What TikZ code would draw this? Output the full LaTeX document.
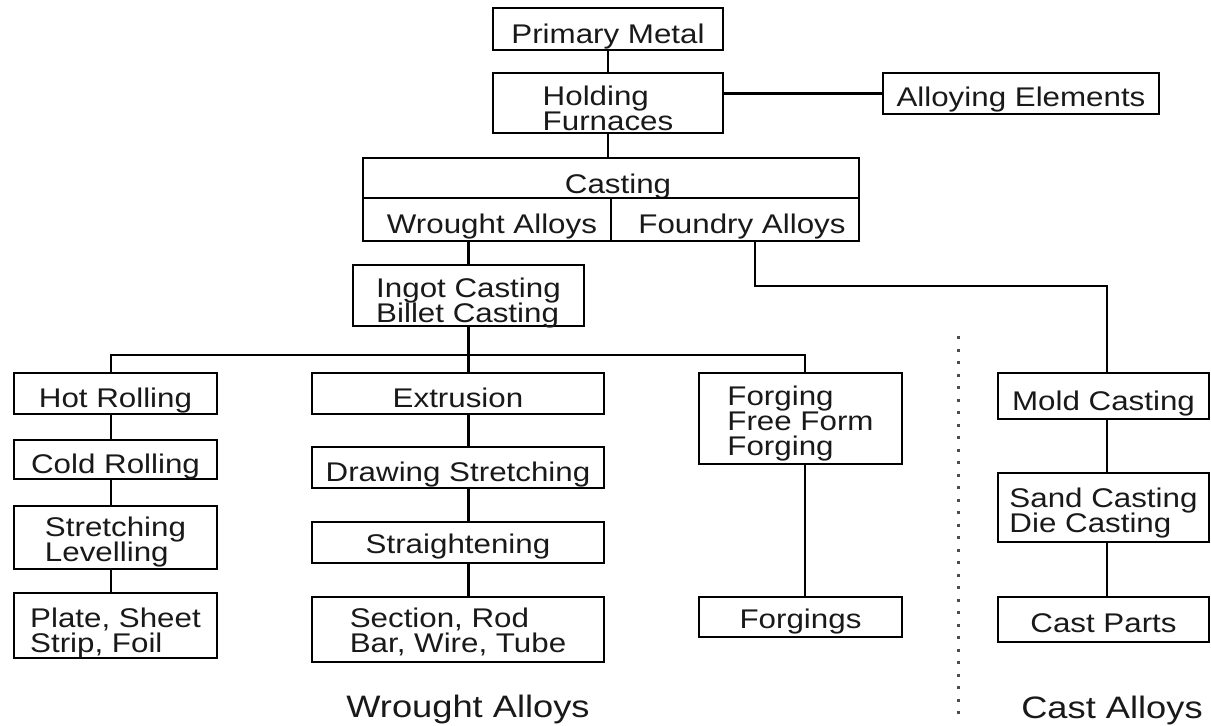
\documentclass[tikz,border=0pt]{standalone}
\usepackage{fontspec}
\newfontfamily\boxfnt{Liberation Sans}[FakeStretch=1.16]
\newfontfamily\lblfnt{Liberation Sans}[FakeStretch=1.17]
\newcommand\bt[2]{\raisebox{-#1pt}[0pt][0pt]{\vtop{\baselineskip=25pt\lineskiplimit=-100pt\lineskip=0pt\halign{##\hfil\cr#2\crcr}}}}
\begin{document}
\begin{tikzpicture}[x=1pt,y=-1pt,
  box/.style={draw=black, line width=2.4pt, inner sep=0pt, font=\boxfnt\fontsize{27}{25}\selectfont, text=black!90},
  conn/.style={line width=2.4pt},
  grouplabel/.style={inner sep=0pt, anchor=base, font=\lblfnt\fontsize{31}{31}\selectfont, text=black!90},
  dots/.style={line width=3pt, dash pattern=on 3pt off 9.5pt, black!70}
]
\useasboundingbox (0,0) rectangle (1211,726);
% top
\node[box, minimum width=230pt, minimum height=42pt] (pm) at (608,29) {\bt{14}{Primary Metal}};
\node[box, minimum width=230pt, minimum height=60pt] (hf) at (608,103) {\bt{2}{Holding\cr Furnaces}};
\node[box, minimum width=276pt, minimum height=41pt] (ae) at (1021,93.5) {\bt{12.5}{Alloying Elements}};
\node[box, minimum width=496pt, minimum height=40pt] (cast) at (611,178) {\hspace*{14pt}\bt{15}{Casting}};
\node[box, minimum width=248pt, minimum height=43pt] (wr) at (487,219.5) {\hspace*{10pt}\bt{13.5}{Wrought Alloys}};
\node[box, minimum width=248pt, minimum height=43pt] (fd) at (735,219.5) {\hspace*{14pt}\bt{13.5}{Foundry Alloys}};
\node[box, minimum width=231pt, minimum height=61pt] (ingot) at (468.5,295.5) {\bt{1.5}{Ingot Casting\cr Billet Casting}};
% left column
\node[box, minimum width=203pt, minimum height=41pt] (hot) at (115.5,393.5) {\bt{13.5}{Hot Rolling}};
\node[box, minimum width=203pt, minimum height=39pt] (cold) at (115.5,459.5) {\bt{13.5}{Cold Rolling}};
\node[box, minimum width=203pt, minimum height=63pt] (str) at (115.5,537.5) {\bt{-1.5}{Stretching\cr Levelling}};
\node[box, minimum width=203pt, minimum height=65pt] (plate) at (115.5,625.5) {\bt{1.5}{Plate, Sheet\cr Strip, Foil}};
% middle column
\node[box, minimum width=292pt, minimum height=41pt] (ext) at (458,393.5) {\bt{13.5}{Extrusion}};
\node[box, minimum width=292pt, minimum height=41pt] (drw) at (458,467.5) {\bt{13.5}{Drawing Stretching}};
\node[box, minimum width=292pt, minimum height=41pt] (strt) at (458,542.5) {\bt{10.5}{Straightening}};
\node[box, minimum width=292pt, minimum height=65pt] (sec) at (458,629.5) {\bt{-2.5}{Section, Rod\cr Bar, Wire, Tube}};
% forging column
\node[box, minimum width=203pt, minimum height=91pt] (forg) at (800.5,418.5) {\bt{-13.5}{Forging\cr Free Form\cr Forging}};
\node[box, minimum width=203pt, minimum height=40pt] (forgs) at (800.5,617) {\bt{11}{Forgings}};
% cast column
\node[box, minimum width=211pt, minimum height=46pt] (mold) at (1103.5,396) {\bt{14}{Mold Casting}};
\node[box, minimum width=211pt, minimum height=69pt] (sand) at (1103.5,507.5) {\bt{-0.5}{Sand Casting\cr Die Casting}};
\node[box, minimum width=211pt, minimum height=45pt] (parts) at (1103.5,619.5) {\bt{12.5}{Cast Parts}};
% group labels
\node[grouplabel] (lw) at (468,717) {Wrought Alloys};
\node[grouplabel] (lc) at (1112,718) {Cast Alloys};
% coordinates
\coordinate (busL) at (111,355);
\coordinate (busR) at (805,355);
\coordinate (f1) at (755,286);
\coordinate (f2) at (1107,286);
\coordinate (d1) at (958,336);
\coordinate (d2) at (958,714);
% connectors
\draw[conn] (pm.south) -- (hf.north);
\draw[conn] (ae.west) -- (ae.west -| hf.east);
\draw[conn] (hf.south) -- (hf.south |- cast.north);
\draw[conn] (ingot.north) -- (ingot.north |- wr.south);
\draw[conn] (ingot.south) -- (ingot.south |- busL);
\draw[conn] (busL |- hot.north) -- (busL) -- (busR) -- (busR |- forg.north);
\draw[conn] (ingot.south |- busL) -- (ingot.south |- ext.north);
\draw[conn] (busL |- hot.south) -- (busL |- cold.north);
\draw[conn] (busL |- cold.south) -- (busL |- str.north);
\draw[conn] (busL |- str.south) -- (busL |- plate.north);
\draw[conn] (ingot.south |- ext.south) -- (ingot.south |- drw.north);
\draw[conn] (ingot.south |- drw.south) -- (ingot.south |- strt.north);
\draw[conn] (ingot.south |- strt.south) -- (ingot.south |- sec.north);
\draw[conn] (busR |- forg.south) -- (busR |- forgs.north);
\draw[conn] (f1 |- fd.south) -- (f1) -- (f2) -- (f2 |- mold.north);
\draw[conn] (f2 |- mold.south) -- (f2 |- sand.north);
\draw[conn] (f2 |- sand.south) -- (f2 |- parts.north);
\draw[dots] (d1) -- (d2);
\end{tikzpicture}
\end{document}
